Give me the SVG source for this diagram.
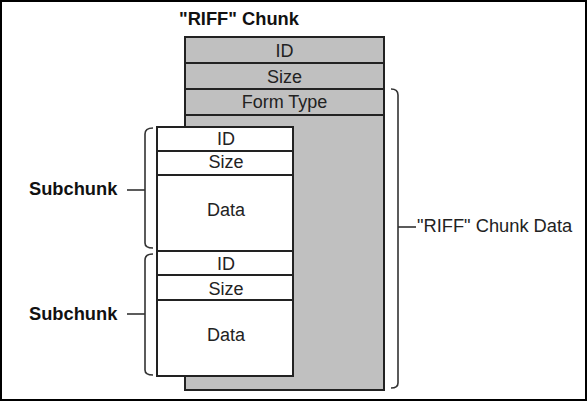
<svg xmlns="http://www.w3.org/2000/svg" width="587" height="401" viewBox="0 0 587 401">
<style>
.t{font-family:"Liberation Sans",Arial,sans-serif;font-size:18px;fill:#222;text-anchor:middle}
.b{font-family:"Liberation Sans",Arial,sans-serif;font-size:18.3px;font-weight:bold;fill:#111}
.l{font-family:"Liberation Sans",Arial,sans-serif;font-size:18.3px;fill:#222}
.box{stroke:#222;stroke-width:2}
.br{fill:none;stroke:#333;stroke-width:1.6}
</style>
<rect x="0" y="0" width="587" height="401" fill="#fff"/>
<rect x="1" y="1" width="585" height="399" fill="none" stroke="#000" stroke-width="2"/>
<g id="title"><text class="b" x="179" y="25">"RIFF" Chunk</text></g>
<g id="riff-chunk">
<rect class="box" x="185" y="37" width="199" height="353" fill="#c0c0c0"/>
<line class="box" x1="185" y1="63" x2="384" y2="63"/>
<line class="box" x1="185" y1="89" x2="384" y2="89"/>
<line class="box" x1="185" y1="115" x2="384" y2="115"/>
<text class="t" x="284.5" y="57">ID</text>
<text class="t" x="284.5" y="83">Size</text>
<text class="t" x="284.5" y="108">Form Type</text>
</g>
<g id="subchunk1">
<rect class="box" x="157" y="127" width="136" height="124" fill="#fff"/>
<line class="box" x1="157" y1="151" x2="293" y2="151"/>
<line class="box" x1="157" y1="175" x2="293" y2="175"/>
<text class="t" x="226" y="145">ID</text>
<text class="t" x="226" y="168">Size</text>
<text class="t" x="226" y="216">Data</text>
</g>
<g id="subchunk2">
<rect class="box" x="157" y="251" width="136" height="125" fill="#fff"/>
<line class="box" x1="157" y1="275" x2="293" y2="275"/>
<line class="box" x1="157" y1="300" x2="293" y2="300"/>
<text class="t" x="226" y="270">ID</text>
<text class="t" x="226" y="295">Size</text>
<text class="t" x="226" y="341">Data</text>
</g>
<g id="connectors">
<path class="br" d="M153,128 Q145,128 145,134 V243 Q145,248 153,248"/>
<path class="br" d="M127,190 H145"/>
<path class="br" d="M153,254 Q145,254 145,260 V370 Q145,375 153,375"/>
<path class="br" d="M127,314 H145"/>
<path class="br" d="M391,89 Q398,89 398,95 V383 Q398,388 391,388"/>
<path class="br" d="M398,227 H416"/>
</g>
<g id="labels">
<text class="b" x="29" y="195">Subchunk</text>
<text class="b" x="29" y="320">Subchunk</text>
<text class="l" x="417" y="232">"RIFF" Chunk Data</text>
</g>
</svg>
